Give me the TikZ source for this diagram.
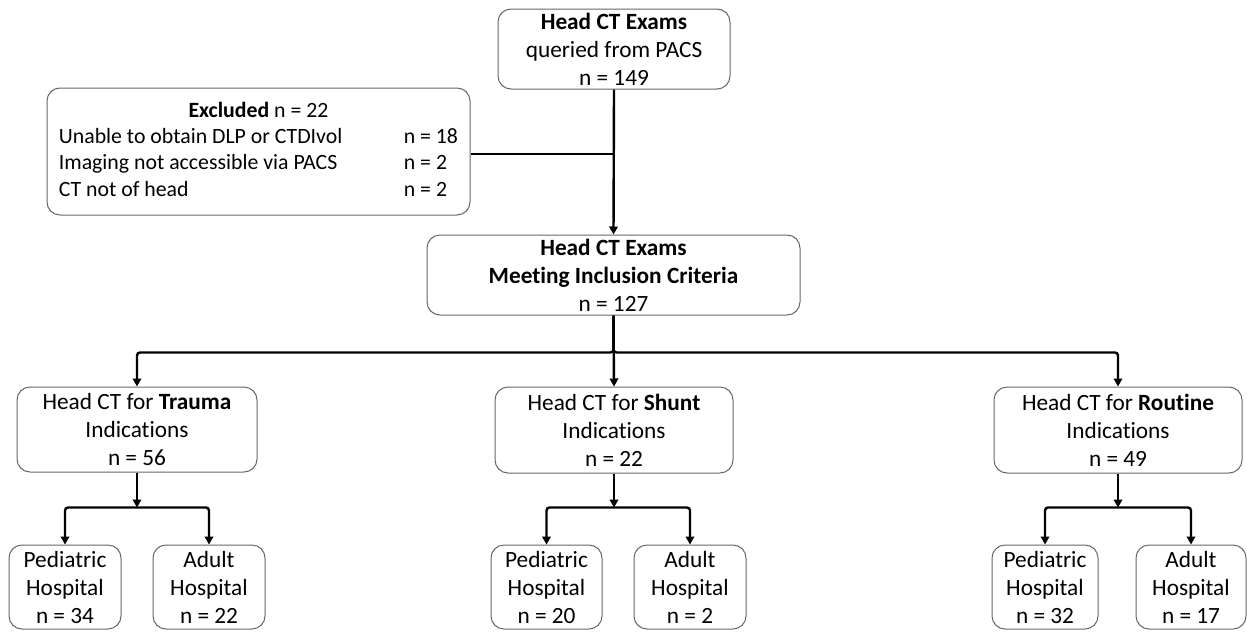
\documentclass[tikz,border=0pt]{standalone}
\usepackage{fontspec}
\setmainfont{Carlito}[Ligatures=NoCommon]
\usetikzlibrary{arrows.meta}
\begin{document}
\begin{tikzpicture}[x=1pt,y=-1pt,
  box/.style={draw=black!60, line width=1pt, rounded corners=13pt, align=center,
    inner sep=0pt, font=\fontsize{23.3}{28}\selectfont},
  conn/.style={line width=2.4pt, -{Triangle[length=8pt,width=8.5pt]}},
  thin/.style={line width=1.5pt}]
\useasboundingbox (0,0) rectangle (1247,632);

\node[box, minimum width=232pt, minimum height=80pt] (top) at (614,49)
  {\textbf{Head CT Exams}\\queried from PACS\\n = 149};
\node[box, minimum width=423pt, minimum height=127pt, font=\fontsize{21.8}{26.2}\selectfont] (excl) at (258.5,151.5)
  {\begin{tabular}{@{}p{345pt}@{}l@{}}
   \multicolumn{2}{c}{\textbf{Excluded} n = 22}\\
   Unable to obtain DLP or CTDIvol & n = 18\\
   Imaging not accessible via PACS & n = 2\\
   CT not of head & n = 2
   \end{tabular}};
\node[box, minimum width=373pt, minimum height=80pt] (mid) at (613.5,275)
  {\textbf{Head CT Exams}\\\textbf{Meeting Inclusion Criteria}\\n = 127};

\node[box, minimum width=240pt, minimum height=85pt] (trauma) at (137,429.5)
  {Head CT for \textbf{Trauma}\\Indications\\n = 56};
\node[box, minimum width=238pt, minimum height=86pt] (shunt) at (614,430)
  {Head CT for \textbf{Shunt}\\Indications\\n = 22};
\node[box, minimum width=248pt, minimum height=86pt] (routine) at (1118,430)
  {Head CT for \textbf{Routine}\\Indications\\n = 49};

\node[box, minimum width=112pt, minimum height=84pt] (tped) at (65,587)
  {Pediatric\\Hospital\\n = 34};
\node[box, minimum width=112pt, minimum height=84pt] (tadu) at (209,587)
  {Adult\\Hospital\\n = 22};
\node[box, minimum width=111pt, minimum height=84pt] (sped) at (546.5,587)
  {Pediatric\\Hospital\\n = 20};
\node[box, minimum width=112pt, minimum height=84pt] (sadu) at (690,587)
  {Adult\\Hospital\\n = 2};
\node[box, minimum width=106pt, minimum height=84pt] (rped) at (1045,587)
  {Pediatric\\Hospital\\n = 32};
\node[box, minimum width=110pt, minimum height=84pt] (radu) at (1191,587)
  {Adult\\Hospital\\n = 17};

% top to mid
\draw[conn] (top.south) -- (mid.north);
\draw[thin] (excl.east) ++(0,2.5) coordinate (ex) -- (ex -| top.south);

% mid split
\path (mid.south) ++(0,37) coordinate (ms);
\draw[conn] (mid.south) -- (shunt.north);
\draw[conn, rounded corners=3pt] (mid.south) -- (ms) -| (trauma.north);
\draw[conn, rounded corners=3pt] (mid.south) -- (ms) -| (routine.north);

% sub splits
\path (trauma.south) ++(0,35) coordinate (tj);
\draw[conn] (trauma.south) -- (tj);
\draw[conn, rounded corners=3pt] (tj) -| (tped.north);
\draw[conn, rounded corners=3pt] (tj) -| (tadu.north);

\path (shunt.south) ++(0,34) coordinate (sj);
\draw[conn] (shunt.south) -- (sj);
\draw[conn, rounded corners=3pt] (sj) -| (sped.north);
\draw[conn, rounded corners=3pt] (sj) -| (sadu.north);

\path (routine.south) ++(0,34) coordinate (rj);
\draw[conn] (routine.south) -- (rj);
\draw[conn, rounded corners=3pt] (rj) -| (rped.north);
\draw[conn, rounded corners=3pt] (rj) -| (radu.north);
\end{tikzpicture}
\end{document}
